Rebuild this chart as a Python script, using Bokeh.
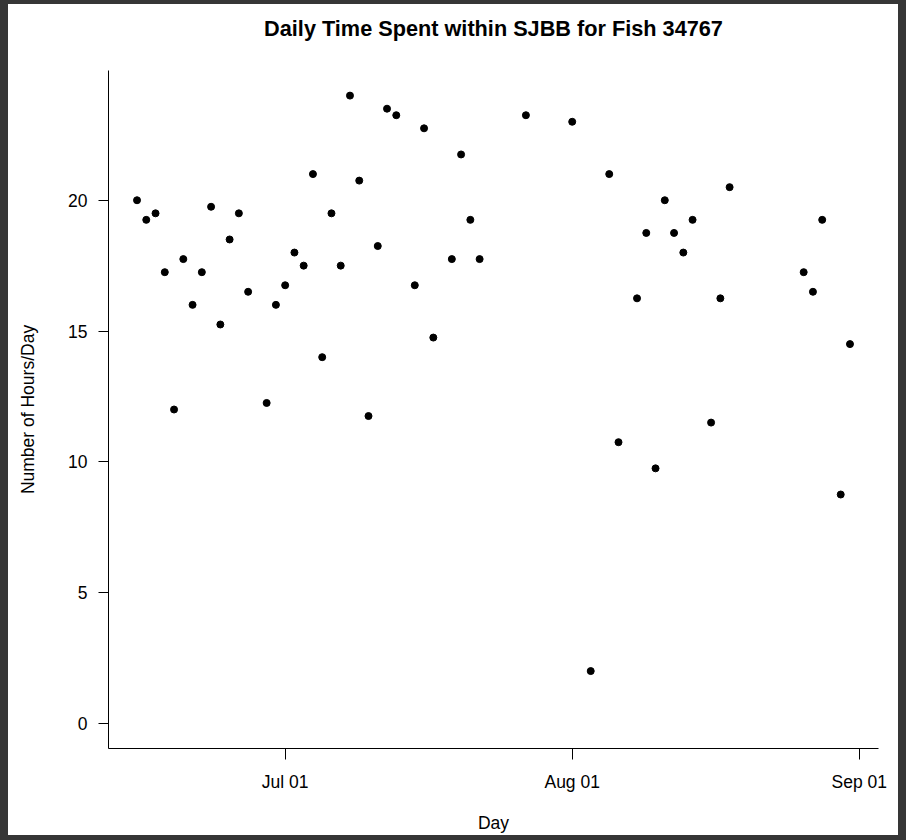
import pandas as pd
from bokeh.plotting import figure
from bokeh.models import (Range1d, FixedTicker, DatetimeTickFormatter,
                          GlobalInlineStyleSheet, Title)
from bokeh.embed import file_html
from bokeh.resources import INLINE

YEAR = "2012"
dates = ["06-15", "06-16", "06-17", "06-18", "06-19", "06-20", "06-21", "06-22",
         "06-23", "06-24", "06-25", "06-26", "06-27", "06-29", "06-30",
         "07-01", "07-02", "07-03", "07-04", "07-05", "07-06", "07-07", "07-08",
         "07-09", "07-10", "07-11", "07-12", "07-13", "07-15", "07-16", "07-17",
         "07-19", "07-20", "07-21", "07-22", "07-27",
         "08-01", "08-03", "08-05", "08-06", "08-08", "08-09", "08-10", "08-11",
         "08-12", "08-13", "08-14", "08-16", "08-17", "08-18", "08-26", "08-27",
         "08-28", "08-30", "08-31"]
hours = [20.0, 19.25, 19.5, 17.25, 12.0, 17.75, 16.0, 17.25,
         19.75, 15.25, 18.5, 19.5, 16.5, 12.25, 16.0,
         16.75, 18.0, 17.5, 21.0, 14.0, 19.5, 17.5, 24.0,
         20.75, 11.75, 18.25, 23.5, 23.25, 16.75, 22.75, 14.75,
         17.75, 21.75, 19.25, 17.75, 23.25,
         23.0, 2.0, 21.0, 10.75, 16.25, 18.75, 9.75, 20.0,
         18.75, 18.0, 19.25, 11.5, 16.25, 20.5, 17.25, 16.5,
         19.25, 8.75, 14.5]
x_tick_dates = ["07-01", "08-01", "09-01"]
y_ticks = [0, 5, 10, 15, 20]
y_lim = [0, 24]

x = pd.to_datetime([f"{YEAR}-{d}" for d in dates])
xt = pd.to_datetime([f"{YEAR}-{d}" for d in x_tick_dates])
span = x.max() - x.min()
pad = span * 0.04
ypad = (y_lim[1] - y_lim[0]) * 0.04

FONT = "Liberation Sans"

p = figure(width=890, height=831, output_backend="svg", toolbar_location=None,
           x_axis_type="datetime",
           x_range=Range1d(x.min() - pad, x.max() + pad),
           y_range=Range1d(y_lim[0] - ypad, y_lim[1] + ypad),
           min_border_left=100, min_border_right=20,
           min_border_top=66, min_border_bottom=86,
           title="Daily Time Spent within SJBB for Fish 34767")
p.stylesheets = [GlobalInlineStyleSheet(
    css="body { background-color: #363636; padding: 4px 0 0 8px; }")]
p.styles = {"background-color": "white"}
p.background_fill_color = "white"
p.border_fill_color = "white"
p.outline_line_color = None
p.grid.visible = False

p.title.text_font = FONT
p.title.text_font_size = "21.7px"
p.title.text_font_style = "bold"
p.title.text_color = "black"
p.title.align = "center"
p.title.standoff = 0

# empty spacer between the title and the plot area
p.add_layout(Title(text=" ", text_font_size="1px", standoff=27), "above")

p.scatter(x, hours, size=7, color="black", line_color="black")

p.xaxis.ticker = FixedTicker(ticks=[t.value / 1e6 for t in xt])
fmt = "%b %d"
p.xaxis.formatter = DatetimeTickFormatter(days=fmt, months=fmt, years=fmt, hours=fmt,
                                          minutes=fmt, seconds=fmt, milliseconds=fmt,
                                          minsec=fmt, hourmin=fmt)
p.yaxis.ticker = FixedTicker(ticks=y_ticks)
p.xaxis.axis_label = "Day"
p.yaxis.axis_label = "Number of Hours/Day"

for ax in (p.xaxis, p.yaxis):
    ax.axis_line_color = "black"
    ax.axis_line_width = 1
    ax.major_tick_line_color = "black"
    ax.major_tick_in = 0
    ax.minor_tick_line_color = None
    ax.major_label_text_font = FONT
    ax.major_label_text_font_size = "17.5px"
    ax.major_label_text_color = "black"
    ax.axis_label_text_font = FONT
    ax.axis_label_text_font_size = "17.5px"
    ax.axis_label_text_font_style = "normal"
    ax.axis_label_text_color = "black"

p.xaxis.major_tick_out = 11
p.xaxis.major_label_standoff = 12
p.xaxis.axis_label_standoff = 18
p.yaxis.major_tick_out = 10
p.yaxis.major_label_standoff = 11
p.yaxis.axis_label_standoff = 27

open("out.html", "w").write(file_html(p, INLINE))
